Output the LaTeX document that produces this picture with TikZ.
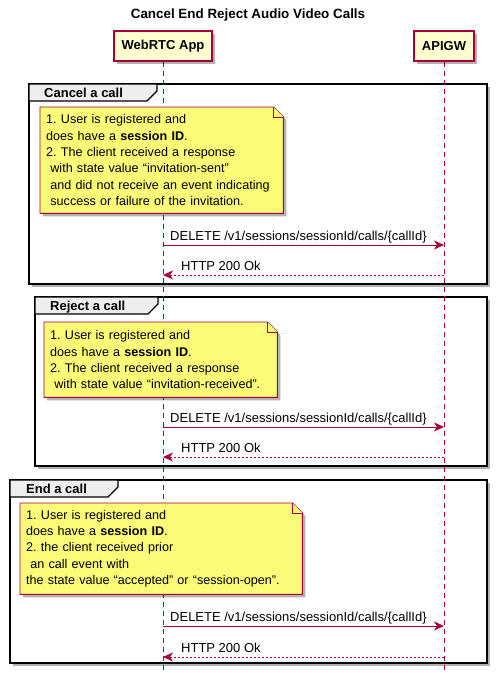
\documentclass[tikz,border=0pt]{standalone}
\usepackage{fontspec}
\setmainfont{Liberation Sans}
\usetikzlibrary{arrows.meta,shadows,calc}
\definecolor{pborder}{HTML}{A80036}
\definecolor{pfill}{HTML}{FEFECE}
\definecolor{nfill}{HTML}{FBFB77}
\definecolor{tabfill}{HTML}{EEEEEE}
\pgfdeclarelayer{back}
\pgfdeclarelayer{mid}
\pgfsetlayers{back,mid,main}
\frenchspacing
\begin{document}
\begin{tikzpicture}[x=1pt,y=-1pt,
  shad/.style={drop shadow={shadow xshift=3pt,shadow yshift=-3pt,opacity=0.3,fill=black}},
  lbl/.style={font=\fontsize{13}{15}\selectfont,inner sep=0pt,anchor=base west},
  participant/.style={draw=pborder,line width=1.2pt,fill=pfill,font=\bfseries\fontsize{13}{15}\selectfont,inner sep=0pt,minimum height=30pt,shad},
  lifeline/.style={draw=pborder,line width=0.9pt,dash pattern=on 5pt off 4pt},
  frame/.style={draw=black,line width=1.6pt,fill=white,shad},
  tab/.style={draw=black,line width=1.2pt,fill=tabfill},
  tabtext/.style={font=\bfseries\fontsize{13}{15}\selectfont,inner sep=0pt,anchor=base west},
  notebox/.style={font=\fontsize{12.6}{16.4}\selectfont,align=left,inner xsep=6pt,inner ysep=0pt,anchor=north west},
  noteshape/.style={draw=pborder,line width=0.9pt,fill=nfill,shad},
  notefold/.style={draw=pborder,line width=0.9pt,fill=nfill},
  req/.style={draw=pborder,line width=1pt,-{Stealth[length=10pt,width=9pt,inset=3pt]}},
  rep/.style={req,dash pattern=on 2pt off 2pt},
]
\useasboundingbox (0,0) rectangle (496,673);

% title
\node[font=\bfseries\fontsize{13.4}{15}\selectfont,inner sep=0pt] (title) at (248,15) {Cancel End Reject Audio Video Calls};

% participants
\node[participant,minimum width=98pt] (web) at (163,46) {WebRTC App};
\node[participant,minimum width=60pt] (api) at (444,46) {APIGW};
\coordinate (webend) at (163,673);
\coordinate (apiend) at (444,673);

% frames
\begin{pgfonlayer}{back}
\draw[frame] (29,84) rectangle (487,284);
\draw[frame] (35,297) rectangle (487,466);
\draw[frame] (10,480) rectangle (487,663);
\draw[lifeline] (web.south) -- (webend);
\draw[lifeline] (api.south) -- (apiend);
\end{pgfonlayer}
\draw[tab] (29,84) -- (157,84) -- (157,91) -- (147,101) -- (29,101) -- cycle;
\node[tabtext] (g1) at (44,97) {Cancel a call};
\draw[tab] (35,297) -- (158,297) -- (158,304) -- (148,314) -- (35,314) -- cycle;
\node[tabtext] (g2) at (50,310.5) {Reject a call};
\draw[tab] (10,480) -- (118,480) -- (118,487) -- (108,497) -- (10,497) -- cycle;
\node[tabtext] (g3) at (26,493) {End a call};

% notes
\node[notebox,text width=231pt,minimum height=106pt] (n1) at (40,107)
 {1. User is registered and\\does have a \textbf{session ID}.\\2. The client received a response\\ \ with state value “invitation-sent”\\ \ and did not receive an event indicating\\ \ success or failure of the invitation.};
\node[notebox,text width=221pt,minimum height=75pt] (n2) at (44,322)
 {1. User is registered and\\does have a \textbf{session ID}.\\2. The client received a response\\ \ with state value “invitation-received”.};
\node[notebox,text width=270pt,minimum height=91pt] (n3) at (20,503)
 {1. User is registered and\\does have a \textbf{session ID}.\\2. the client received prior\\ \ an call event with\\the state value “accepted” or “session-open”.};
\begin{pgfonlayer}{mid}
\foreach \n in {n1,n2,n3}{
  \path[noteshape] (\n.north west) -- ([xshift=-10pt]\n.north east) -- ([yshift=-10pt]\n.north east) -- (\n.south east) -- (\n.south west) -- cycle;
  \path[notefold] ([xshift=-10pt]\n.north east) -- ([xshift=-10pt,yshift=-10pt]\n.north east) -- ([yshift=-10pt]\n.north east);
}
\end{pgfonlayer}

% messages
\coordinate (a1) at (163,245); \coordinate (b1) at (444,245);
\coordinate (a2) at (163,275); \coordinate (b2) at (444,275);
\coordinate (a3) at (163,427); \coordinate (b3) at (444,427);
\coordinate (a4) at (163,457); \coordinate (b4) at (444,457);
\coordinate (a5) at (163,626); \coordinate (b5) at (444,626);
\coordinate (a6) at (163,657); \coordinate (b6) at (444,657);
\draw[req] (a1) -- (b1);
\draw[rep] (b2) -- (a2);
\draw[req] (a3) -- (b3);
\draw[rep] (b4) -- (a4);
\draw[req] (a5) -- (b5);
\draw[rep] (b6) -- (a6);
\node[lbl] (m1) at (170,240) {DELETE /v1/sessions/sessionId/calls/\{callId\}};
\node[lbl] (m2) at (181,270) {HTTP 200 Ok};
\node[lbl] (m3) at (170,422) {DELETE /v1/sessions/sessionId/calls/\{callId\}};
\node[lbl] (m4) at (181,452) {HTTP 200 Ok};
\node[lbl] (m5) at (170,621) {DELETE /v1/sessions/sessionId/calls/\{callId\}};
\node[lbl] (m6) at (181,652) {HTTP 200 Ok};
\end{tikzpicture}
\end{document}
